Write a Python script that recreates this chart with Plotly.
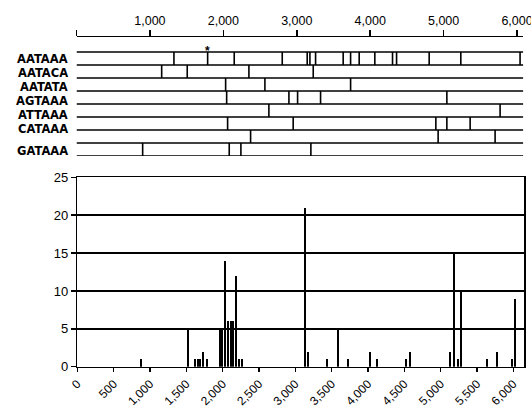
import plotly.graph_objects as go

# ---------------- data ----------------
motifs = ["AATAAA", "AATACA", "AATATA", "AGTAAA", "ATTAAA", "CATAAA", "GATAAA"]

# positions (nt) of motif occurrences for each of the 8 map rows
row1 = [1327, 1786, 2148, 2802, 3142, 3179, 3256, 3632, 3733, 3850, 4063, 4304, 4359, 4803, 5234, 6041]
row2 = [1160, 1508, 2348, 3224]
row3 = [2031, 2566, 3733]
row4 = [2045, 2893, 3011, 3324, 5044]
row5 = [2620, 5769]
row6 = [2058, 2951, 4894, 5044, 5361]
row7 = [2371, 4925, 5701]
row8 = [901, 2080, 2239, 3192]
map_rows = [row1, row2, row3, row4, row5, row6, row7, row8]
starred_position = 1786

# histogram bars
bar_pos = [872, 1528, 1624, 1657, 1689, 1730, 1780, 1965, 1990, 2028, 2078, 2111, 2138, 2188,
           2229, 2270, 3133, 3179, 3432, 3592, 3729, 4032, 4128, 4527, 4574, 5125, 5184,
           5234, 5276, 5638, 5780, 5978, 6027]
bar_val = [1, 5, 1, 1, 1, 2, 1, 5, 5, 14, 6, 6, 6, 12,
           1, 1, 21, 2, 1, 5, 1, 2, 1, 1, 2, 2, 15,
           1, 10, 1, 2, 1, 9]

top_ticks = [0, 1000, 2000, 3000, 4000, 5000, 6000]
top_ticktext = ["", "1,000", "2,000", "3,000", "4,000", "5,000", "6,000"]
bottom_ticks = list(range(0, 6001, 500))
y_ticks = [0, 5, 10, 15, 20, 25]

# ---------------- layout helpers ----------------
W, H = 531, 408
def px(x):
    return x / W
def py(y):
    return 1 - y / H

MAP_MAX = 6085
ROW_PX = 13.0
label_rows = [0.55, 1.62, 2.7, 3.78, 4.86, 5.92, 7.6]

fig = go.Figure()

# bars
fig.add_trace(go.Bar(x=bar_pos, y=bar_val, width=24, marker=dict(color="black", line=dict(width=0)),
                     xaxis="x", yaxis="y", showlegend=False))

# map horizontal lines
n_rows = len(map_rows)
hx, hy = [], []
for i in range(n_rows + 1):
    hx += [0, MAP_MAX, None]
    hy += [i, i, None]
fig.add_trace(go.Scatter(x=hx, y=hy, mode="lines", line=dict(color="black", width=1.6),
                         xaxis="x2", yaxis="y2", showlegend=False, hoverinfo="skip"))

# map vertical marks
vx, vy = [], []
for i, row in enumerate(map_rows):
    for p in row:
        vx += [p, p, None]
        vy += [i, i + 1, None]
fig.add_trace(go.Scatter(x=vx, y=vy, mode="lines", line=dict(color="black", width=1.6),
                         xaxis="x2", yaxis="y2", showlegend=False, hoverinfo="skip"))

font_family = "Liberation Sans, Arial, sans-serif"
label_family = "DejaVu Sans, Liberation Sans, Arial, sans-serif"

annotations = []
for name, r in zip(motifs, label_rows):
    annotations.append(dict(x=px(69), y=r, xref="paper", yref="y2", text="<b>%s</b>" % name,
                            showarrow=False, xanchor="right", yanchor="middle", borderpad=0,
                            font=dict(family=label_family, size=11.5, color="black")))
annotations.append(dict(x=starred_position, y=-0.1, xref="x2", yref="y2", text="<b>*</b>",
                        showarrow=False, xanchor="center", yanchor="middle", borderpad=0,
                        font=dict(family=font_family, size=12, color="black")))

fig.update_layout(
    width=W, height=H, autosize=False,
    margin=dict(l=0, r=0, t=0, b=0, pad=0, autoexpand=False),
    paper_bgcolor="white", plot_bgcolor="white",
    bargap=0,
    font=dict(family=font_family, color="black"),
    xaxis=dict(domain=[px(77.3), px(524.3)], range=[0, 6151], anchor="y", automargin=False,
               tickvals=bottom_ticks, tickformat=",d", tickangle=-45, ticklabeloverflow="allow",
               ticks="outside", ticklen=4, tickwidth=1.5, tickcolor="black",
               showline=True, linecolor="black", linewidth=1.5, mirror=True,
               showgrid=False, zeroline=False,
               tickfont=dict(family=font_family, size=12, color="black")),
    yaxis=dict(domain=[py(366.7), py(177.3)], range=[0, 25], anchor="x", automargin=False,
               tickvals=y_ticks, ticks="outside", ticklen=5, tickwidth=1.5, tickcolor="black",
               showline=True, linecolor="black", linewidth=1.5, mirror=True,
               showgrid=True, gridcolor="black", gridwidth=1.5, zeroline=False,
               tickfont=dict(family=font_family, size=13, color="black")),
    xaxis2=dict(domain=[px(76.5), px(523.3)], range=[0, MAP_MAX], anchor="y2", side="top",
                automargin=False, ticklabeloverflow="allow",
                tickvals=top_ticks, ticktext=top_ticktext,
                ticks="outside", ticklen=6, tickwidth=1.5, tickcolor="black",
                showline=True, linecolor="black", linewidth=1.5,
                showgrid=False, zeroline=False,
                tickfont=dict(family=font_family, size=12.5, color="black")),
    yaxis2=dict(domain=[py(52 + 8 * ROW_PX), py(37)], range=[8, -15 / ROW_PX], anchor="x2",
                automargin=False,
                showline=False, showgrid=False, zeroline=False, showticklabels=False, ticks=""),
    annotations=annotations,
)

fig.write_html("out.html", config={"displayModeBar": False, "staticPlot": True},
               post_script="document.body.style.margin='0';document.body.style.padding='0';"
                           "document.documentElement.style.overflow='hidden';")
